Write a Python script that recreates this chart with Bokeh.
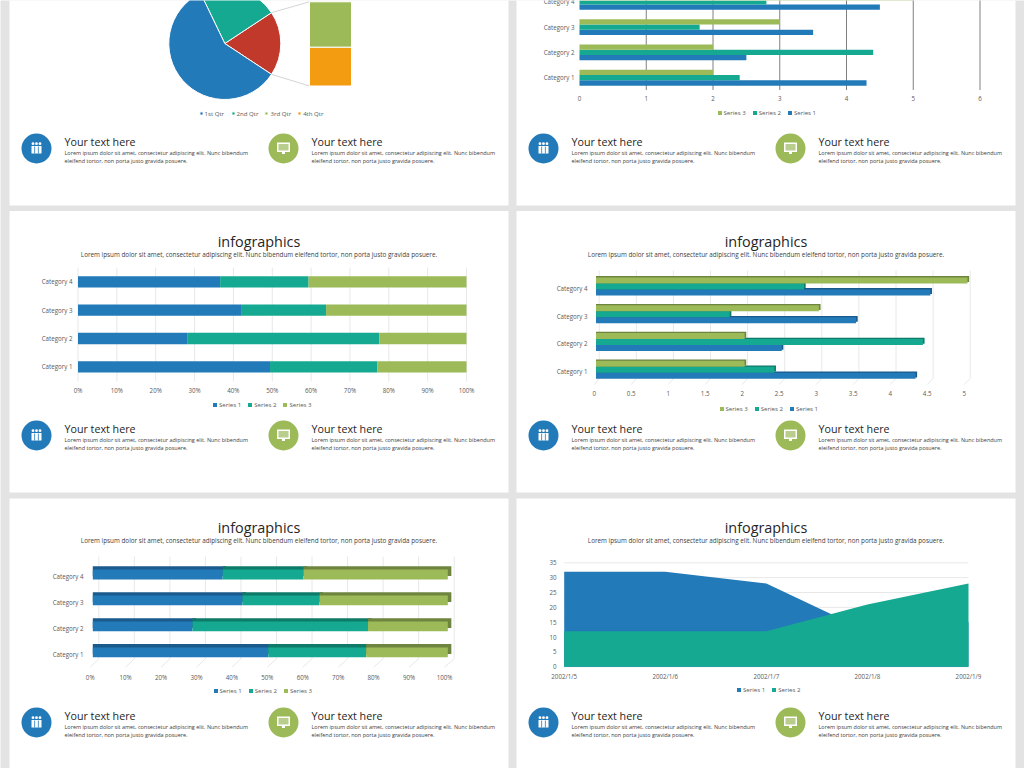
import math
from bokeh.embed import file_html
from bokeh.resources import INLINE
from bokeh.plotting import figure
from bokeh.models import (Range1d, Label, Legend, LegendItem, LinearAxis, FixedTicker, PrintfTickFormatter)

CATEGORIES = ["Category 1", "Category 2", "Category 3", "Category 4"]
SERIES_1 = [4.3, 2.5, 3.5, 4.5]
SERIES_2 = [2.4, 4.4, 1.8, 2.8]
SERIES_3 = [2.0, 2.0, 3.0, 5.0]
PIE_LABELS = ["1st Qtr", "2nd Qtr", "3rd Qtr", "4th Qtr"]
PIE_VALUES = [8.2, 3.2, 1.4, 1.2]
AREA_DATES = ["2002/1/5", "2002/1/6", "2002/1/7", "2002/1/8", "2002/1/9"]
AREA_S1 = [32, 32, 28, 12, 15]
AREA_S2 = [12, 12, 12, 21, 28]
HEADING = "infographics"
SUBHEAD = "Lorem ipsum dolor sit amet, consectetur adipiscing elit. Nunc bibendum eleifend tortor, non porta justo gravida posuere."
FOOT_TITLE = "Your text here"
FOOT_1 = "Lorem ipsum dolor sit amet, consectetur adipiscing elit. Nunc bibendum"
FOOT_2 = "eleifend tortor, non porta justo gravida posuere."

BLUE, TEAL, GREEN, RED, ORANGE = "#237ab9", "#15a992", "#9cba58", "#c0392b", "#f39c12"
DBLUE, DTEAL, DGREEN = "#1a5a8c", "#0e7a68", "#6e8540"
GRAY = "#e3e3e3"
GRID = "#e8e8e8"
FONT = "Open Sans"
TICK = "#595959"
TICK_SIZE = "6.2px"
CATS_Y = [1, 2, 3, 4]
CAT_OVR = {i + 1: c for i, c in enumerate(CATEGORIES)}
W, H = 1024, 768


def Y(py):
    return H - py


def linmap(a, b, p0, v0, p1, v1):
    f = lambda q: v0 + (q - p0) * (v1 - v0) / (p1 - p0)
    return Range1d(f(a), f(b))


p = figure(width=W, height=H, x_range=Range1d(0, W), y_range=Range1d(0, H), x_axis_location=None, y_axis_location=None,
           toolbar_location=None, output_backend="svg", min_border=0, border_fill_color=GRAY,
           background_fill_color=GRAY, outline_line_color=None)
p.xgrid.visible = False
p.ygrid.visible = False


def xrange(name, p0, v0, p1, v1):
    p.extra_x_ranges[name] = linmap(0, W, p0, v0, p1, v1)


def yrange(name, p0, v0, p1, v1):
    p.extra_y_ranges[name] = linmap(H, 0, p0, v0, p1, v1)


def rect(l, t, r, b, color):
    p.quad(left=[l], right=[r], top=[Y(t)], bottom=[Y(b)], fill_color=color, line_color=None)


def text(x, py, s, size, color, align="left"):
    p.add_layout(Label(x=x, y=Y(py - 1), text=s, text_font=FONT, text_font_size=size, text_color=color,
                       text_align=align, text_baseline="middle"))


def furniture(card, title_y, foot_y):
    l, t, r, b = card
    rect(l, t, r, b, "white")
    mid = (l + r) / 2
    if title_y is not None:
        text(mid, title_y, HEADING, "14.4px", "#262626", "center")
        text(mid, title_y + 12.8, SUBHEAD, "6.33px", "#404040", "center")
    for i, (col, ox) in enumerate([(BLUE, 27), (GREEN, 274)]):
        x = l + ox
        p.circle(x=[x], y=[Y(foot_y)], radius=15, fill_color=col, line_color=None)
        if i == 0:
            rect(x - 5, foot_y - 2.5, x + 5, foot_y + 5, "white")
            p.circle(x=[x - 3.5, x, x + 3.5], y=[Y(foot_y - 4.8)] * 3, radius=1.4, fill_color="white", line_color=None)
            for dx in (-1.8, 1.8):
                rect(x + dx - 0.4, foot_y - 2, x + dx + 0.4, foot_y + 5, col)
        else:
            rect(x - 6.5, foot_y - 6, x + 6.5, foot_y + 3.5, "white")
            rect(x - 5, foot_y - 4.5, x + 5, foot_y + 2, "#b9cd8c")
            rect(x - 1.5, foot_y + 3.5, x + 1.5, foot_y + 5.5, "white")
        tx = x + 28
        text(tx, foot_y - 5.5, FOOT_TITLE, "10.7px", "#262626")
        text(tx, foot_y + 5.2, FOOT_1, "5.48px", "#404040")
        text(tx, foot_y + 13, FOOT_2, "5.48px", "#404040")


def legend(pairs, left, py, spacing=6, glyph=5):
    items = [LegendItem(label=n, renderers=[rd]) for n, rd in pairs]
    p.add_layout(Legend(items=items, orientation="horizontal", location=(left, Y(py) - 3.5), padding=0, margin=0,
                        spacing=spacing, glyph_width=glyph, glyph_height=glyph, label_height=7, label_standoff=2,
                        label_text_font=FONT, label_text_font_size="6.1px", label_text_color=TICK,
                        border_line_color=None, background_fill_alpha=0), "center")


def style_axis(ax, standoff):
    ax.axis_line_color = None
    ax.major_tick_line_color = None
    ax.minor_tick_line_color = None
    ax.major_tick_out = 0
    ax.major_tick_in = 0
    ax.minor_tick_out = 0
    ax.major_label_text_font = FONT
    ax.major_label_text_font_size = TICK_SIZE
    ax.major_label_text_color = TICK
    ax.major_label_standoff = standoff


def left_axis(name, ticks, px, standoff, over=None):
    ax = LinearAxis(ticker=FixedTicker(ticks=ticks), y_range_name=name, fixed_location=px)
    if over:
        ax.major_label_overrides = over
    style_axis(ax, standoff)
    p.add_layout(ax, "left")


def bottom_axis(name, ticks, py, standoff, fmt=None, over=None):
    ax = LinearAxis(ticker=FixedTicker(ticks=ticks), x_range_name=name, fixed_location=Y(py))
    if fmt:
        ax.formatter = PrintfTickFormatter(format=fmt)
    if over:
        ax.major_label_overrides = over
    style_axis(ax, standoff)
    p.add_layout(ax, "below")


def percent(row):
    tot = SERIES_1[row] + SERIES_2[row] + SERIES_3[row]
    return [100 * s[row] / tot for s in (SERIES_1, SERIES_2, SERIES_3)]


furniture((9, -10, 508, 205), None, 148)
furniture((516, -10, 1015, 205), None, 148)
furniture((9, 210.5, 508, 492), 241.7, 435)
furniture((516, 210.5, 1015, 492), 241.7, 435)
furniture((9, 498, 508, 778), 528.3, 722)
furniture((516, 498, 1015, 778), 528.3, 722)

# ---- pie of pie
PX, PY, PR = 224.3, Y(43), 56
total = sum(PIE_VALUES)
other = PIE_VALUES[2] + PIE_VALUES[3]
half = other / total * math.pi
a_teal = PIE_VALUES[1] / total * 2 * math.pi
yrange("stack", 85.5, 0, 1.3, other)
for sgn, yend in ((1, 1.3), (-1, 85.5)):
    p.line([PX + PR * math.cos(half), 309], [PY + sgn * PR * math.sin(half), Y(yend)], line_color="#d4d4d4", line_width=1)
w_red = p.wedge(x=[PX], y=[PY], radius=[PR], start_angle=[-half], end_angle=[half], fill_color=RED, line_color="white", line_width=1)
w_teal = p.wedge(x=[PX], y=[PY], radius=[PR], start_angle=[half], end_angle=[half + a_teal], fill_color=TEAL, line_color="white", line_width=1)
w_blue = p.wedge(x=[PX], y=[PY], radius=[PR], start_angle=[half + a_teal], end_angle=[2 * math.pi - half], fill_color=BLUE, line_color="white", line_width=1)
b_org = p.vbar(x=[330], width=42, bottom=[0], top=[PIE_VALUES[3]], y_range_name="stack", fill_color=ORANGE, line_color="white", line_width=1)
b_grn = p.vbar(x=[330], width=42, bottom=[PIE_VALUES[3]], top=[other], y_range_name="stack", fill_color=GREEN, line_color="white", line_width=1)
legend([(PIE_LABELS[0], w_blue), (PIE_LABELS[1], w_teal), (PIE_LABELS[2], b_grn), (PIE_LABELS[3], b_org)], 198.5, 114, glyph=4)

# ---- clustered bars, cropped
xrange("c2", 579, 0, 979.5, 6)
yrange("c2", 77.2, 1, 51.9, 2)
G2 = [1, 2, 3, 4, 5, 6]
p.segment(x0=G2, x1=G2, y0=[Y(-2)] * 6, y1=[Y(89.5)] * 6, x_range_name="c2", line_color="#808080", line_width=1)
bottom_axis("c2", [0] + G2, 90, 5)
left_axis("c2", CATS_Y[:3], 579, 5, CAT_OVR)
text(574, 0.9 + 1, CATEGORIES[3], TICK_SIZE, TICK, "right")
bh = 0.21
kw = dict(x_range_name="c2", y_range_name="c2", left=0, height=bh, line_color=None)
r1 = p.hbar(y=[c - bh for c in CATS_Y], right=SERIES_1, fill_color=BLUE, **kw)
r2 = p.hbar(y=CATS_Y, right=SERIES_2, fill_color=TEAL, **kw)
r3 = p.hbar(y=[c + bh for c in CATS_Y], right=SERIES_3, fill_color=GREEN, **kw)
legend([("Series 3", r3), ("Series 2", r2), ("Series 1", r1)], 716.5, 113)

# ---- 100% stacked
xrange("c3", 77.5, 0, 466, 100)
yrange("c3", 366.3, 1, 281.3, 4)
T3 = list(range(0, 101, 10))
p.segment(x0=T3, x1=T3, y0=[Y(267)] * 11, y1=[Y(381)] * 11, x_range_name="c3", line_color=GRID)
bottom_axis("c3", T3, 381, 4, fmt="%d%%")
left_axis("c3", CATS_Y, 77, 5, CAT_OVR)
bh = 0.4
base = [0, 0, 0, 0]
rs = []
for si, col in enumerate((BLUE, TEAL, GREEN)):
    vals = [percent(i)[si] for i in range(4)]
    top = [a + b for a, b in zip(base, vals)]
    rs.append(p.hbar(y=CATS_Y, left=base, right=top, height=bh, x_range_name="c3", y_range_name="c3", fill_color=col, line_color=None))
    base = top
legend([("Series 1", rs[0]), ("Series 2", rs[1]), ("Series 3", rs[2])], 212, 405)

# ---- 3D clustered
xrange("c4", 595.5, 0, 967, 5)
yrange("c4", 369.3, 1, 286, 4)
xrange("c4f", 593.7, 0, 963.7, 5)
yrange("c4f", 371, 1, 288, 4)
T4 = [0, 0.5, 1, 1.5, 2, 2.5, 3, 3.5, 4, 4.5, 5]
wall = [598.7 + v * 74.2 for v in T4]
front = [593.7 + v * 74 for v in T4]
p.segment(x0=wall, x1=wall, y0=[Y(270)] * 11, y1=[Y(378)] * 11, line_color=GRID)
p.segment(x0=wall, x1=front, y0=[Y(378)] * 11, y1=[Y(384)] * 11, line_color=GRID)
bottom_axis("c4f", T4, 386, 4, over={0: "0", 1: "1", 2: "2", 3: "3", 4: "4", 5: "5"})
left_axis("c4f", CATS_Y, 590, 3, CAT_OVR)
bh = 0.216
rs = {}
kw = dict(x_range_name="c4", y_range_name="c4", left=0, height=bh, line_color=None)
for off, vals, col, dcol, nm in ((-bh, SERIES_1, BLUE, DBLUE, "Series 1"), (0, SERIES_2, TEAL, DTEAL, "Series 2"), (bh, SERIES_3, GREEN, DGREEN, "Series 3")):
    p.hbar(y=[c + off + 0.05 for c in CATS_Y], right=[v + 0.022 for v in vals], fill_color=dcol, **kw)
    rs[nm] = p.hbar(y=[c + off for c in CATS_Y], right=vals, fill_color=col, **kw)
legend([(n, rs[n]) for n in ("Series 3", "Series 2", "Series 1")], 718.5, 409.5)

# ---- 3D 100% stacked
xrange("c5", 92.3, 0, 447.3, 100)
yrange("c5", 651.8, 1, 574, 4)
xrange("c5f", 89.7, 0, 444, 100)
yrange("c5f", 654, 1, 576, 4)
T5 = list(range(0, 101, 10))
wall = [98.3 + v * 3.554 for v in T5]
front = [89.7 + v * 3.543 for v in T5]
p.segment(x0=wall, x1=wall, y0=[Y(556)] * 11, y1=[Y(658.3)] * 11, line_color=GRID)
p.segment(x0=wall, x1=front, y0=[Y(658.3)] * 11, y1=[Y(666.7)] * 11, line_color=GRID)
bottom_axis("c5f", T5, 670, 2, fmt="%d%%")
left_axis("c5f", CATS_Y, 86, 3, CAT_OVR)
bh = 0.378
base = [0, 0, 0, 0]
rs = []
for si, dcol in enumerate((DBLUE, DTEAL, DGREEN)):
    vals = [percent(i)[si] for i in range(4)]
    top = [a + b for a, b in zip(base, vals)]
    p.hbar(y=[c + 0.127 for c in CATS_Y], left=base, right=[v + 1.0 for v in top], height=bh, x_range_name="c5", y_range_name="c5", fill_color=dcol, line_color=None)
    base = top
base = [0, 0, 0, 0]
for si, col in enumerate((BLUE, TEAL, GREEN)):
    vals = [percent(i)[si] for i in range(4)]
    top = [a + b for a, b in zip(base, vals)]
    rs.append(p.hbar(y=CATS_Y, left=base, right=top, height=bh, x_range_name="c5", y_range_name="c5", fill_color=col, line_color=None))
    base = top
legend([("Series 1", rs[0]), ("Series 2", rs[1]), ("Series 3", rs[2])], 212.5, 691.7)

# ---- area
xrange("c6", 563.7, 0, 968, 4)
yrange("c6", 666.3, 0, 562.3, 35)
IDX = list(range(len(AREA_DATES)))
T6 = list(range(0, 36, 5))
p.segment(x0=[0] * 8, x1=[4] * 8, y0=T6, y1=T6, x_range_name="c6", y_range_name="c6", line_color=GRID)
a1 = p.varea(x=IDX, y1=[0] * 5, y2=AREA_S1, x_range_name="c6", y_range_name="c6", fill_color=BLUE)
a2 = p.varea(x=IDX, y1=[0] * 5, y2=AREA_S2, x_range_name="c6", y_range_name="c6", fill_color=TEAL)
bottom_axis("c6", IDX, 668, 3, over={i: d for i, d in enumerate(AREA_DATES)})
left_axis("c6", T6, 560, 4)
legend([("Series 1", a1), ("Series 2", a2)], 736, 690.7)

open("out.html", "w").write(file_html(p, INLINE))
